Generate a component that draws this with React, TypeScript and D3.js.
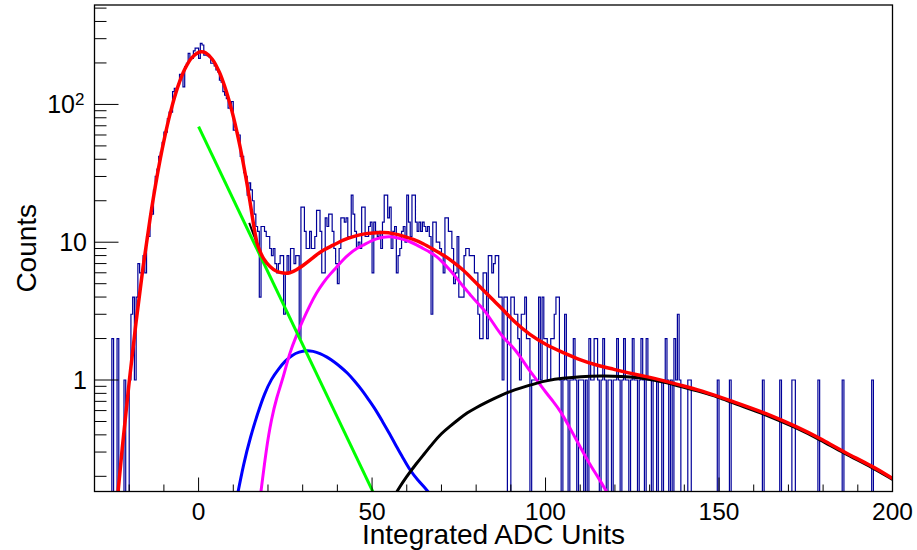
import React from "react";
import * as d3 from "d3";

// ---------------- data ----------------
const binStart = -30;
const binWidth = 0.5;
// counts per 0.5-unit bin, from -30 to 200 (20 bins per row = 10 units)
const counts: number[] = [
  0, 0, 0, 0, 0, 0, 0, 0, 0, 0, 2, 0, 0, 2, 0, 0, 0, 1, 0, 0,
  1, 3, 4, 1, 4, 7, 6, 6, 8, 6, 11, 11, 16, 16, 24, 30, 34, 42, 45, 53,
  63, 63, 79, 88, 88, 124, 131, 131, 140, 165, 165, 134, 188, 199, 235, 216, 216, 245, 256, 256,
  216, 277, 270, 228, 228, 225, 220, 199, 199, 190, 178, 172, 150, 145, 124, 117, 110, 94, 94, 105,
  65, 65, 62, 60, 42, 42, 32, 30, 22, 27, 24, 20, 16, 13, 12, 4, 13, 13, 12, 11,
  11, 9, 8, 9, 7, 6, 7, 8, 8, 3, 6, 8, 6, 9, 9, 7, 8, 8, 2, 18,
  18, 12, 9, 9, 12, 9, 9, 11, 17, 17, 12, 6, 6, 15, 13, 16, 16, 12, 9, 7,
  5, 9, 15, 15, 14, 15, 11, 11, 22, 16, 12, 9, 10, 9, 18, 18, 11, 11, 13, 14,
  6, 14, 12, 11, 12, 9, 14, 22, 22, 15, 18, 9, 12, 13, 6, 8, 9, 12, 13, 10,
  22, 14, 11, 22, 22, 14, 12, 14, 12, 14, 13, 12, 13, 11, 3, 14, 14, 10, 10, 9,
  8, 6, 15, 15, 12, 12, 9, 5, 6, 11, 4, 4, 4, 8, 9, 9, 8, 8, 8, 6,
  6, 3, 2, 2, 6, 6, 2, 8, 8, 6, 7, 8, 8, 4, 4, 1, 4, 4, 0, 0,
  4, 4, 3, 3, 2, 1, 3, 3, 4, 2, 2, 0, 1, 1, 1, 1, 4, 1, 4, 2,
  2, 1, 1, 2, 2, 3, 4, 4, 1, 0, 1, 3, 1, 0, 1, 1, 2, 1, 0, 1,
  1, 1, 0, 1, 0, 2, 1, 1, 2, 2, 1, 0, 1, 2, 1, 0, 1, 1, 0, 1,
  1, 2, 1, 0, 1, 2, 1, 1, 0, 1, 2, 1, 1, 0, 1, 2, 1, 0, 2, 1,
  1, 0, 1, 1, 0, 1, 1, 0, 1, 2, 1, 0, 1, 0, 2, 1, 3, 1, 0, 0,
  0, 0, 1, 1, 0, 0, 0, 0, 0, 0, 0, 0, 0, 0, 0, 0, 0, 0, 0, 1,
  0, 0, 0, 0, 0, 0, 1, 0, 0, 0, 0, 0, 0, 0, 0, 0, 0, 0, 0, 0,
  0, 0, 0, 0, 0, 1, 0, 0, 0, 0, 0, 0, 0, 0, 0, 1, 0, 0, 0, 0,
  0, 0, 1, 1, 0, 0, 0, 0, 0, 0, 0, 0, 0, 0, 0, 0, 0, 1, 0, 0,
  0, 0, 0, 0, 0, 0, 0, 0, 0, 0, 0, 1, 0, 0, 0, 0, 0, 0, 0, 0,
  0, 0, 0, 0, 0, 0, 0, 0, 1, 0, 0, 0, 0, 0, 0, 0, 0, 0, 0, 0,
];

// fit curves: [x, value] points
const redPeak: [number, number][] = [
  [-24, 0.094], [-22, 0.32], [-20, 0.97], [-18, 2.66], [-16, 6.6], [-14, 14.7],
  [-12, 29.8], [-10, 54.4], [-8, 89.8], [-6, 134], [-4, 180], [-2, 218], [0, 239],
  [0.8, 241], [2, 237], [4, 212], [6, 171], [8, 124], [10, 82], [12, 48.7],
  [14, 26.1], [15, 18.4], [16, 12.7], [16.8, 9.9],
];
const redTail: [number, number][] = [
  [16.8, 9.9], [17.5, 8.8], [18.6, 7.6], [20.6, 6.6], [22.5, 6.1], [24.4, 5.95],
  [26.3, 5.95], [28.2, 6.3], [30.2, 6.8], [32.1, 7.4], [34, 8.1], [35.9, 8.8],
  [38.8, 9.5], [41.7, 10.4], [44.6, 11.0], [47.4, 11.5], [50.3, 11.7], [53.2, 11.8],
  [56.1, 11.6], [59, 11.1], [61.9, 10.5], [64.7, 9.8], [67.6, 8.9], [70.5, 8.1],
  [73.4, 7.2], [76.3, 6.3], [79.2, 5.3], [82, 4.5], [84.9, 3.8], [87.5, 3.3],
  [90.7, 2.68], [95.5, 2.12], [100.3, 1.79], [105.1, 1.58], [109.9, 1.4], [114.7, 1.28],
  [119.5, 1.2], [124.3, 1.12], [129.1, 1.06], [133.9, 0.99], [138.7, 0.92], [144.5, 0.846],
  [154.1, 0.696], [163.7, 0.573], [172.4, 0.458], [179.1, 0.378], [185.8, 0.302],
  [194.5, 0.235], [200, 0.193],
];
const blackJoin: [number, number][] = [
  [14.6, 13.8], [15.6, 11.8], [16.6, 10.2], [17.4, 9.0],
];
const greenLine: [number, number][] = [
  [0, 68.9], [51, 0.141],
];
const blueCurve: [number, number][] = [
  [10.8, 0.13], [13, 0.25], [15, 0.39], [17, 0.57], [19, 0.8], [21, 1.02], [23, 1.2],
  [25, 1.38], [27, 1.52], [29, 1.6], [31, 1.64], [33, 1.62], [35, 1.56], [37, 1.47],
  [39, 1.36], [41, 1.24], [43, 1.12], [45, 0.98], [47, 0.85], [49, 0.72], [51, 0.61],
  [53, 0.5], [55, 0.41], [57, 0.33], [59, 0.27], [61, 0.22], [63, 0.19], [66.2, 0.155],
  [67, 0.145],
];
const magentaCurve: [number, number][] = [
  [17.6, 0.13], [19.6, 0.33], [21, 0.52], [22.5, 0.75], [24.2, 1.0], [26.3, 1.6],
  [28.2, 2.1], [30, 2.7], [32.1, 3.5], [34, 4.3], [35.9, 5.1], [38, 5.9], [39.8, 6.6],
  [41.7, 7.5], [43.6, 8.3], [45.5, 9.0], [47.4, 9.5], [49.3, 10.1], [51.3, 10.6],
  [53.2, 10.9], [55, 11.0], [57.1, 10.8], [59, 10.5], [60.9, 10.1], [62.8, 9.6],
  [64.7, 9.0], [66.6, 8.5], [68.6, 7.9], [70.5, 7.1], [72.4, 6.3], [74.4, 5.5],
  [76.3, 4.75], [78.2, 4.2], [80, 3.7], [82, 3.3], [84, 2.8], [86, 2.35], [88, 2.0],
  [90, 1.8], [92.6, 1.5], [95, 1.2], [97.5, 1.0], [100.3, 0.8], [102.2, 0.7],
  [104.2, 0.6], [107, 0.45], [109.9, 0.33], [112.5, 0.25], [115, 0.2], [117.6, 0.155],
  [118.5, 0.14],
];
const blackCurve: [number, number][] = [
  [56.5, 0.145], [57.1, 0.155], [60, 0.2], [62.8, 0.248], [65, 0.29], [67.6, 0.35],
  [70, 0.41], [72.4, 0.46], [75, 0.52], [77.5, 0.58], [80, 0.63], [82.5, 0.68],
  [85, 0.73], [87.5, 0.78], [90, 0.83], [92.5, 0.87], [95, 0.91], [97.5, 0.95],
  [100.3, 0.99], [105, 1.03], [110, 1.06], [116, 1.07], [122, 1.065], [127, 1.04],
  [131, 1.0], [135, 0.955], [138.7, 0.9], [144.5, 0.825], [150, 0.75], [154.1, 0.68],
  [163.7, 0.56], [172.4, 0.448], [179.1, 0.37], [185.8, 0.296], [194.5, 0.23], [200, 0.19],
];

const xDomain = [-30, 200];
const yDomain = [0.1552, 526.7];
const xMajorTicks = [0, 50, 100, 150, 200];
const xMajorLabels = ["0", "50", "100", "150", "200"];
const xMinorTicks = [-30, -20, -10, 10, 20, 30, 40, 60, 70, 80, 90, 110, 120, 130, 140, 160, 170, 180, 190];
const yMajorTicks = [1, 10, 100];
const yMinorTicks = [0.2, 0.3, 0.4, 0.5, 0.6, 0.7, 0.8, 0.9, 2, 3, 4, 5, 6, 7, 8, 9,
  20, 30, 40, 50, 60, 70, 80, 90, 200, 300, 400, 500];
const xTitle = "Integrated ADC Units";
const yTitle = "Counts";

const FONT = "'Liberation Sans', Arial, Helvetica, sans-serif";

export default function App() {
  const W = 917, H = 550;
  const L = 94.5, R = 892.5, T = 5, B = 491.5;
  const x = d3.scaleLinear().domain(xDomain).range([L, R]);
  const y = d3.scaleLog().domain(yDomain).range([B, T]);

  let hist = `M${x(binStart)},${B}`;
  counts.forEach((c, i) => {
    const x0 = x(binStart + i * binWidth);
    const x1 = x(binStart + (i + 1) * binWidth);
    const yy = c > 0 ? y(c) : B;
    hist += `L${x0},${yy}L${x1},${yy}`;
  });
  hist += `L${x(binStart + counts.length * binWidth)},${B}`;

  const catmull = d3
    .line<[number, number]>()
    .x((p) => x(p[0]))
    .y((p) => y(p[1]))
    .curve(d3.curveCatmullRom.alpha(0.5));
  const smooth = d3
    .line<[number, number]>()
    .x((p) => x(p[0]))
    .y((p) => y(p[1]))
    .curve(d3.curveBasis);
  const straight = d3
    .line<[number, number]>()
    .x((p) => x(p[0]))
    .y((p) => y(p[1]));

  return (
    <svg
      width={W}
      height={H}
      style={{ position: "fixed", left: 0, top: 0, background: "#fff" }}
      fontFamily={FONT}
    >
      <defs>
        <clipPath id="frameClip">
          <rect x={L} y={T} width={R - L} height={B - T} />
        </clipPath>
      </defs>
      <rect x={0} y={0} width={W} height={H} fill="#fff" />
      <g clipPath="url(#frameClip)">
        <path d={hist} fill="none" stroke="#000099" strokeWidth={1.2} />
        <path d={smooth(blueCurve) || ""} fill="none" stroke="#0000ff" strokeWidth={3} />
        <path d={smooth(magentaCurve) || ""} fill="none" stroke="#ff00ff" strokeWidth={3} />
        <path d={straight(greenLine) || ""} fill="none" stroke="#00ff00" strokeWidth={3} />
        <path d={smooth(blackCurve) || ""} fill="none" stroke="#000000" strokeWidth={3} />
        <path d={catmull(blackJoin) || ""} fill="none" stroke="#000000" strokeWidth={2} />
        <path d={catmull(redPeak) || ""} fill="none" stroke="#ff0000" strokeWidth={3.5} />
        <path d={smooth(redTail) || ""} fill="none" stroke="#ff0000" strokeWidth={3.5} />
      </g>
      {/* frame */}
      <rect x={L} y={T} width={R - L} height={B - T} fill="none" stroke="#000" strokeWidth={1.3} />
      {/* x ticks */}
      {xMajorTicks.map((t) => (
        <line key={"xM" + t} x1={x(t)} x2={x(t)} y1={B} y2={B - 14} stroke="#000" strokeWidth={1} />
      ))}
      {xMinorTicks.map((t) => (
        <line key={"xm" + t} x1={x(t)} x2={x(t)} y1={B} y2={B - 7} stroke="#000" strokeWidth={1} />
      ))}
      {xMajorTicks.map((t, i) => (
        <text key={"xl" + t} x={x(t)} y={520} fontSize={24.5} textAnchor="middle" fill="#000">
          {xMajorLabels[i]}
        </text>
      ))}
      {/* y ticks */}
      {yMajorTicks.map((t) => (
        <line key={"yM" + t} x1={L} x2={L + 24} y1={y(t)} y2={y(t)} stroke="#000" strokeWidth={1} />
      ))}
      {yMinorTicks.map((t) => (
        <line key={"ym" + t} x1={L} x2={L + 12} y1={y(t)} y2={y(t)} stroke="#000" strokeWidth={1} />
      ))}
      <text x={87} y={y(1) + 9} fontSize={25} textAnchor="end" fill="#000">1</text>
      <text x={87} y={y(10) + 9} fontSize={25} textAnchor="end" fill="#000">10</text>
      <text x={75} y={y(100) + 9} fontSize={25} textAnchor="end" fill="#000">10</text>
      <text x={75} y={y(100) + 1} fontSize={17} textAnchor="start" fill="#000">2</text>
      {/* titles */}
      <text x={(L + R) / 2} y={544} fontSize={28} textAnchor="middle" fill="#000">
        {xTitle}
      </text>
      <text
        transform={`translate(36,${(T + B) / 2}) rotate(-90)`}
        fontSize={28}
        textAnchor="middle"
        fill="#000"
      >
        {yTitle}
      </text>
    </svg>
  );
}
